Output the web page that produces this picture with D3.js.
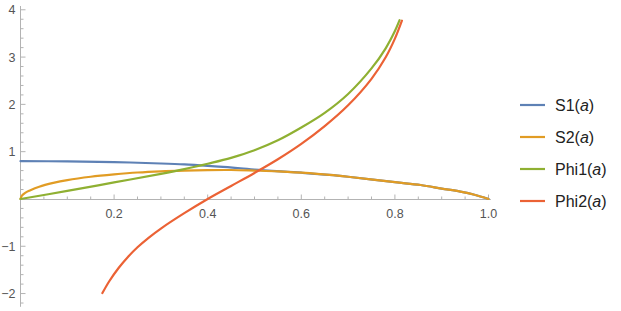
<!DOCTYPE html>
<html>
<head>
<meta charset="utf-8">
<script src="https://cdn.jsdelivr.net/npm/d3@7"></script>
<style>
  body { margin: 0; background: #fff; }
  svg { font-family: "Liberation Sans", Arial, sans-serif; }
</style>
</head>
<body>
<div id="chart"></div>
<script>
// values: [a, value]
const s1 = [[0, 0.80], [0.1, 0.795], [0.2, 0.78], [0.3, 0.75], [0.35, 0.73], [0.4, 0.70],
  [0.47, 0.65], [0.5, 0.62], [0.6, 0.555], [0.66, 0.51], [0.7, 0.47], [0.8, 0.355],
  [0.855, 0.295], [0.9, 0.22], [0.94, 0.155], [0.97, 0.09], [1.0, 0.0]]
const s2 = [[0, 0], [0.003, 0.07], [0.01, 0.13], [0.02, 0.18], [0.04, 0.26], [0.07, 0.34],
  [0.1, 0.40], [0.15, 0.47], [0.2, 0.52], [0.25, 0.56], [0.3, 0.585], [0.35, 0.60],
  [0.4, 0.61], [0.45, 0.612], [0.5, 0.60], [0.55, 0.585], [0.6, 0.555], [0.66, 0.51],
  [0.7, 0.47], [0.8, 0.355], [0.855, 0.295], [0.9, 0.22], [0.94, 0.155], [0.97, 0.09], [1.0, 0.0]]
const phi1 = [[0, 0], [0.1, 0.17], [0.2, 0.35], [0.3, 0.53], [0.35, 0.63], [0.4, 0.745],
  [0.45, 0.87], [0.5, 1.03], [0.55, 1.24], [0.6, 1.51], [0.65, 1.82], [0.7, 2.22],
  [0.75, 2.76], [0.78, 3.18], [0.8, 3.55], [0.81, 3.78]]
const phi2 = [[0.175, -1.99], [0.19, -1.735], [0.21, -1.455], [0.23, -1.22], [0.25, -1.02],
  [0.275, -0.81], [0.3, -0.625], [0.35, -0.30], [0.4, 0.0], [0.45, 0.275], [0.5, 0.55],
  [0.55, 0.84], [0.6, 1.165], [0.65, 1.54], [0.7, 1.98], [0.75, 2.54], [0.78, 2.99],
  [0.8, 3.39], [0.815, 3.77]]

const seriesNames = ["S1", "S2", "Phi1", "Phi2"]
const seriesData = [s1, s2, phi1, phi2]
const colors = ["#5E81B5", "#E19C24", "#8FB032", "#EB6235"]

const xTicks = [0.2, 0.4, 0.6, 0.8, 1.0]
const yTicks = [-2, -1, 1, 2, 3, 4]

const width = 621, height = 311

const x = d3.scaleLinear().domain([0, 1]).range([20.5, 488.5])
const y = d3.scaleLinear().domain([-2.28, 4.08]).range([306.8, 6])

const svg = d3.select("#chart").append("svg")
  .attr("width", width)
  .attr("height", height)

// axes
const axisColor = "#b3b3b3"
const axes = svg.append("g").attr("stroke", axisColor).attr("stroke-width", 1)

const y0 = Math.round(y(0)) + 0.5
axes.append("line")
  .attr("x1", x(0)).attr("x2", x(1.005))
  .attr("y1", y0).attr("y2", y0)
axes.append("line")
  .attr("x1", x(0)).attr("x2", x(0))
  .attr("y1", y(-2.28)).attr("y2", y(4.08))

const xMinor = d3.range(1, 21).map(i => i * 0.05)
axes.selectAll(".xt")
  .data(xMinor)
  .join("line")
    .attr("x1", d => x(d)).attr("x2", d => x(d))
    .attr("y1", y0)
    .attr("y2", (d, i) => y0 - ((i + 1) % 4 == 0 ? 5 : 3))

const yMinor = d3.range(-11, 21).map(i => i * 0.2).filter(d => Math.abs(d) > 1e-9)
axes.selectAll(".yt")
  .data(yMinor)
  .join("line")
    .attr("x1", x(0))
    .attr("x2", d => x(0) + (Math.abs(d - Math.round(d)) < 1e-9 ? 5 : 3))
    .attr("y1", d => y(d)).attr("y2", d => y(d))

svg.append("g")
  .attr("fill", "#555")
  .attr("font-size", 12.5)
  .attr("text-anchor", "middle")
  .selectAll("text")
  .data(xTicks)
  .join("text")
    .attr("x", d => x(d))
    .attr("y", y0 + 18)
    .text(d => d.toFixed(1))

svg.append("g")
  .attr("fill", "#555")
  .attr("font-size", 12.5)
  .attr("text-anchor", "end")
  .selectAll("text")
  .data(yTicks)
  .join("text")
    .attr("x", x(0) - 5)
    .attr("y", d => y(d) + 4.5)
    .text(d => d < 0 ? "\u2212" + Math.abs(d) : d)

// curves
const line = d3.line()
  .x(d => x(d[0]))
  .y(d => y(d[1]))
  .curve(d3.curveCatmullRom.alpha(0.5))

svg.append("g")
  .selectAll("path")
  .data(seriesData)
  .join("path")
    .attr("d", line)
    .attr("fill", "none")
    .attr("stroke", (d, i) => colors[i])
    .attr("stroke-width", 2.2)
    .attr("stroke-linejoin", "round")
    .attr("stroke-linecap", "round")

// legend
const legend = svg.append("g")
  .selectAll("g")
  .data(seriesNames)
  .join("g")
    .attr("transform", (d, i) => `translate(520, ${105 + i * 32})`)

legend.append("line")
  .attr("x1", 0).attr("x2", 25)
  .attr("stroke", (d, i) => colors[i])
  .attr("stroke-width", 2.2)

const lt = legend.append("text")
  .attr("x", 35)
  .attr("y", 5.5)
  .attr("font-size", 16)
  .attr("fill", "#222")
lt.append("tspan").text(d => d + "(")
lt.append("tspan").attr("font-style", "italic").text("a")
lt.append("tspan").text(")")
</script>
</body>
</html>
